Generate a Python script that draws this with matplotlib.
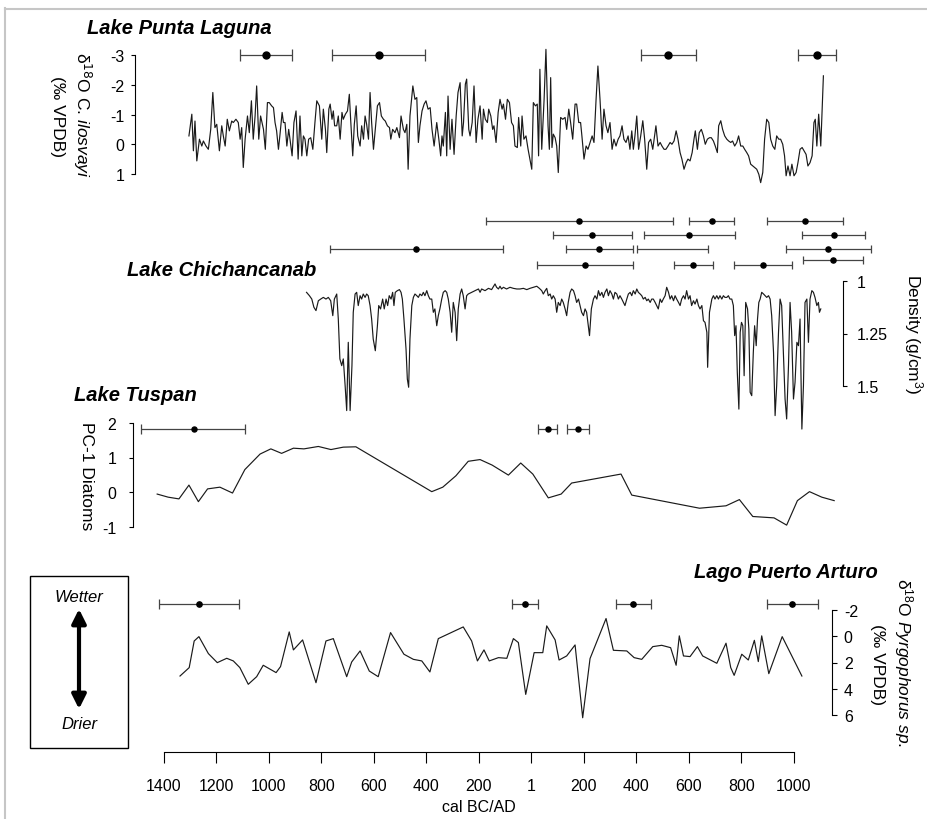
import matplotlib
matplotlib.use('Agg')
import matplotlib.pyplot as plt
from matplotlib.lines import Line2D
from matplotlib.patches import Rectangle, FancyArrowPatch

plt.rcParams['font.family'] = ['Liberation Sans', 'DejaVu Sans']
plt.rcParams['mathtext.fontset'] = 'custom'
plt.rcParams['mathtext.rm'] = 'Liberation Sans'
plt.rcParams['mathtext.it'] = 'Liberation Sans:italic'
plt.rcParams['mathtext.bf'] = 'Liberation Sans:bold'
plt.rcParams['axes.unicode_minus'] = False

# ---------------- data (years: negative = BC) ----------------
# Lake Punta Laguna, d18O C. ilosvayi
pl_year = [-1305, -1294, -1288, -1282, -1275, -1265, -1256, -1250, -1240, -1231,
           -1222, -1214, -1206, -1199, -1189, -1180, -1174, -1167, -1159, -1151,
           -1142, -1136, -1126, -1117, -1110, -1104, -1098, -1091, -1082, -1075,
           -1067, -1060, -1053, -1047, -1039, -1032, -1021, -1014, -1006, -999,
           -990, -983, -977, -971, -964, -958, -950, -945, -939, -932,
           -925, -920, -912, -905, -897, -889, -882, -875, -869, -863,
           -856, -849, -841, -833, -825, -818, -808, -799, -793, -785,
           -780, -772, -767, -760, -755, -750, -742, -736, -729, -722,
           -717, -709, -701, -694, -689, -681, -675, -668, -662, -653,
           -647, -640, -634, -628, -621, -615, -609, -602, -595, -587,
           -579, -572, -564, -557, -549, -541, -536, -529, -520, -513,
           -503, -497, -488, -482, -475, -470, -463, -452, -444, -437,
           -431, -425, -417, -409, -402, -394, -386, -379, -371, -361,
           -353, -346, -341, -336, -328, -323, -318, -310, -303, -295,
           -287, -280, -272, -264, -259, -252, -247, -239, -234, -226,
           -219, -211, -204, -196, -188, -183, -176, -168, -163, -155,
           -148, -143, -135, -127, -120, -112, -107, -99, -92, -84,
           -76, -69, -63, -54, -49, -41, -36, -29, -21, -13,
           -6, 1, 7, 15, 22, 27, 32, 39, 48, 55,
           63, 68, 73, 78, 83, 90, 96, 102, 111, 119,
           128, 134, 142, 149, 157, 166, 172, 180, 187, 192,
           200, 208, 215, 223, 231, 238, 246, 253, 261, 269,
           276, 284, 291, 299, 307, 314, 322, 330, 337, 345,
           352, 360, 368, 375, 382, 388, 394, 401, 408, 416,
           424, 431, 439, 446, 454, 462, 469, 474, 482, 490,
           497, 505, 512, 520, 528, 535, 543, 551, 558, 566,
           573, 581, 589, 596, 604, 612, 619, 624, 632, 639,
           647, 655, 662, 670, 678, 685, 693, 700, 708, 713,
           721, 728, 736, 744, 751, 759, 766, 774, 782, 789,
           797, 805, 812, 820, 827, 835, 843, 850, 858, 866,
           873, 881, 888, 896, 904, 911, 919, 927, 934, 942,
           949, 957, 964, 970, 977, 985, 992, 1000, 1008, 1015,
           1023, 1031, 1038, 1046, 1053, 1061, 1069, 1076, 1081, 1087,
           1094, 1102, 1112]
pl_d18o = [-0.28, -1.01, 0.22, -0.78, 0.56, -0.17, 0.06, -0.11, 0.06, 0.17,
           -0.50, -1.74, -0.56, -0.67, 0.22, -0.62, -0.28, 0.06, -0.84, -0.45,
           -0.78, -0.73, -0.84, -0.73, -0.17, -0.56, 0.78, -0.17, -0.95, -0.39,
           -1.46, -0.17, -0.95, -1.96, -0.17, -0.95, -0.50, 0.17, -1.40, -1.40,
           -1.29, -1.23, -0.73, -0.45, 0.17, -0.34, -1.07, -0.73, -0.73, 0.06,
           -0.50, -0.17, 0.39, -0.73, -1.12, 0.50, -0.95, 0.39, -0.28, -0.17,
           0.39, -0.17, -0.22, 0.17, -0.73, -1.46, -1.29, -0.17, -1.18, -0.50,
           0.28, -1.18, -1.35, -0.84, -1.12, -0.62, -0.62, -0.95, -0.17, -1.07,
           -0.84, -1.01, -1.12, -1.68, -0.84, 0.39, -0.67, -1.29, -0.28, 0.06,
           -0.62, -0.17, -0.95, -0.67, -0.17, -1.74, -0.73, 0.17, -0.50, -1.29,
           -1.40, -0.95, -0.84, -0.78, -0.62, -0.56, -0.17, -0.50, -0.39, -0.56,
           -0.22, -0.95, -0.50, -0.39, -0.67, 0.84, -0.95, -1.96, -1.51, -1.57,
           -0.06, -0.62, -1.12, -1.35, -1.46, -1.18, -1.23, -0.50, 0.06, -0.73,
           -0.17, 0.39, -0.28, 0.06, -1.07, 0.39, -1.62, 0.17, -0.84, 0.34,
           -0.95, -1.74, -2.07, -0.28, -0.73, -2.02, -2.19, -0.50, -0.28, -0.73,
           -1.96, -0.06, -0.84, -1.29, -0.17, -1.18, -0.84, -0.73, -1.18, -0.95,
           -0.50, -0.62, -0.06, -1.07, -1.51, -1.18, -1.35, -0.84, -1.51, -1.40,
           -0.73, -0.62, 0.06, 0.11, -0.90, 0.06, -0.95, -0.17, -0.28, 0.17,
           0.50, 0.84, -1.40, -1.29, -1.35, 0.39, -2.52, 0.17, -1.51, -3.19,
           -0.62, 0.17, -2.24, 0.11, -0.34, -0.22, 0.06, 0.95, -0.90, -0.84,
           -0.90, -0.50, -1.18, -0.73, -0.17, -1.35, -1.35, -0.73, -0.73, -0.28,
           0.50, 0.06, 0.17, -0.06, -0.28, -0.06, -1.51, -2.63, -1.51, -0.17,
           -1.18, -0.62, -0.39, -0.73, 0.17, -0.17, 0.06, -0.17, -0.28, -0.62,
           -0.17, -0.06, -0.28, 0.17, -0.45, 0.17, -0.28, -0.95, 0.17, -0.28,
           -0.79, -0.17, 0.84, -0.06, -0.17, 0.17, -0.28, -0.62, 0.06, -0.06,
           0.06, 0.17, 0.17, 0.06, -0.06, 0.00, -0.11, -0.45, -0.17, 0.28,
           0.50, 0.84, 0.62, 0.50, 0.56, 0.28, -0.17, -0.45, 0.17, -0.39,
           -0.50, -0.28, 0.00, -0.17, -0.22, -0.22, -0.11, 0.06, 0.28, -0.62,
           -0.79, -0.50, -0.28, -0.17, -0.11, -0.06, -0.11, 0.06, -0.06, -0.28,
           0.06, 0.06, 0.17, 0.28, 0.39, 0.67, 0.73, 0.78, 0.84, 1.01,
           1.29, 0.95, -0.17, -0.84, -0.73, -0.17, 0.06, 0.17, -0.28, -0.17,
           -0.17, 0.00, 0.39, 1.06, 0.73, 1.06, 0.67, 1.06, 0.95, 0.62,
           0.17, 0.11, 0.22, 0.34, 0.73, 0.62, 0.39, -0.73, -0.84, 0.06,
           -1.01, 0.06, -2.30]
pl_age = [-1011, -581, 520, 1088]
pl_age_lo = [-1110, -760, 417, 1015]
pl_age_hi = [-912, -406, 627, 1160]

# Lake Chichancanab, sediment density
ch_year = [-857, -846, -837, -829, -821, -812, -803, -793, -783, -774,
           -765, -757, -751, -742, -736, -730, -723, -717, -710, -704,
           -698, -691, -684, -679, -672, -666, -660, -653, -647, -641,
           -634, -628, -622, -615, -609, -603, -595, -587, -582, -575,
           -567, -561, -554, -548, -542, -535, -529, -524, -519, -511,
           -503, -497, -492, -486, -478, -473, -468, -463, -456, -450,
           -444, -437, -431, -425, -418, -412, -406, -399, -393, -387,
           -380, -374, -368, -361, -355, -349, -342, -336, -329, -323,
           -317, -310, -304, -298, -291, -285, -279, -272, -266, -260,
           -253, -247, -241, -228, -215, -202, -196, -190, -177, -164,
           -152, -139, -133, -126, -120, -114, -107, -95, -82, -69,
           -56, -44, -31, -18, -6, 7, 20, 30, 39, 45,
           52, 58, 64, 71, 77, 83, 90, 96, 102, 109,
           115, 121, 128, 134, 140, 147, 153, 160, 166, 172,
           179, 185, 191, 198, 204, 210,
           221, 228, 236, 242, 249, 255, 261, 268, 274, 280,
           287, 293, 299, 306, 312, 318, 325, 331, 337, 344,
           350, 356, 363, 369, 376, 382, 388, 395, 401, 407,
           414, 420, 426, 433, 439, 445, 452, 458, 464, 471,
           477, 483, 490, 496, 502, 509, 515, 522, 528, 534,
           541, 547, 553, 560, 566, 572, 579, 585, 591, 598,
           604, 610, 617, 623, 630, 636, 642, 649, 655, 661,
           668, 671, 678, 687, 693, 699, 706, 712, 718, 725,
           731, 737, 744, 750, 756, 763, 769, 774, 779, 784,
           790, 795, 800, 805, 810, 816, 823, 828, 833, 839,
           845, 850, 856, 861, 866, 871, 877, 884, 890, 896,
           903, 909, 915, 922, 928, 934, 941, 947, 953, 960,
           966, 972, 979, 985, 991, 998, 1004, 1011, 1017, 1023,
           1030, 1036, 1042, 1049, 1055, 1061, 1068, 1074, 1080, 1087,
           1093, 1097, 1102]
ch_density = [1.054, 1.070, 1.086, 1.125, 1.141, 1.094, 1.086, 1.078, 1.086, 1.078,
              1.094, 1.165, 1.086, 1.062, 1.181, 1.371, 1.403, 1.371, 1.498, 1.617,
              1.292, 1.617, 1.403, 1.149, 1.062, 1.054, 1.117, 1.070, 1.086, 1.062,
              1.078, 1.062, 1.070, 1.117, 1.181, 1.276, 1.332, 1.213, 1.117, 1.133,
              1.086, 1.133, 1.086, 1.117, 1.070, 1.086, 1.054, 1.117, 1.054, 1.046,
              1.041, 1.054, 1.086, 1.181, 1.324, 1.467, 1.506, 1.276, 1.117, 1.078,
              1.062, 1.070, 1.078, 1.062, 1.070, 1.054, 1.070, 1.046, 1.070, 1.086,
              1.086, 1.149, 1.133, 1.213, 1.165, 1.133, 1.086, 1.054, 1.046, 1.054,
              1.086, 1.149, 1.244, 1.102, 1.149, 1.284, 1.133, 1.062, 1.038, 1.070,
              1.133, 1.070, 1.062, 1.054, 1.046, 1.038, 1.054, 1.038, 1.046, 1.035,
              1.041, 1.014, 1.030, 1.038, 1.025, 1.038, 1.030, 1.038, 1.030, 1.035,
              1.038, 1.038, 1.035, 1.041, 1.035, 1.030, 1.025, 1.035, 1.046, 1.062,
              1.046, 1.035, 1.070, 1.062, 1.086, 1.070, 1.086, 1.149, 1.102, 1.117,
              1.086, 1.102, 1.133, 1.165, 1.102, 1.054, 1.038, 1.046, 1.070, 1.102,
              1.086, 1.117, 1.149, 1.165, 1.133, 1.149,
              1.260, 1.133, 1.086, 1.070, 1.086, 1.046, 1.070, 1.054, 1.078, 1.054,
              1.038, 1.070, 1.046, 1.062, 1.086, 1.054, 1.062, 1.086, 1.070, 1.086,
              1.102, 1.117, 1.086, 1.062, 1.054, 1.070, 1.046, 1.062, 1.038, 1.054,
              1.062, 1.070, 1.086, 1.078, 1.094, 1.086, 1.102, 1.086, 1.086, 1.102,
              1.117, 1.133, 1.086, 1.102, 1.086, 1.070, 1.030, 1.054, 1.086, 1.070,
              1.094, 1.070, 1.086, 1.102, 1.117, 1.086, 1.070, 1.086, 1.046, 1.086,
              1.070, 1.117, 1.094, 1.110, 1.086, 1.117, 1.133, 1.117, 1.189, 1.197,
              1.244, 1.411, 1.149, 1.086, 1.070, 1.086, 1.070, 1.086, 1.070, 1.086,
              1.070, 1.078, 1.078, 1.070, 1.086, 1.086, 1.117, 1.260, 1.213, 1.435,
              1.610, 1.244, 1.197, 1.213, 1.451, 1.102, 1.133, 1.229, 1.530, 1.546,
              1.340, 1.213, 1.308, 1.181, 1.102, 1.086, 1.054, 1.062, 1.070, 1.078,
              1.070, 1.086, 1.165, 1.340, 1.641, 1.498, 1.244, 1.086, 1.117, 1.356,
              1.562, 1.657, 1.403, 1.102, 1.244, 1.562, 1.482, 1.292, 1.308, 1.181,
              1.705, 1.498, 1.102, 1.086, 1.292, 1.086, 1.046, 1.054, 1.078, 1.117,
              1.102, 1.149, 1.133]
# radiocarbon ages: lower bound, upper bound, row height (density units), dated point (None = no dot)
ch_age_lo = [-173, 600, 897, 82, 429, 1030, -768, 131, 402, 970, 21, 543, 771, 1034]
ch_age_hi = [539, 771, 1187, 383, 775, 1270, -109, 387, 672, 1293, 387, 691, 992, 1263]
ch_age_row = [0.713, 0.713, 0.713, 0.781, 0.781, 0.781, 0.848, 0.848, 0.848, 0.848,
              0.922, 0.922, 0.922, 0.90]
ch_age = [181, 688, 1042, 230, 600, 1152, -440, 257, None, 1130, 204, 615, 882, 1149]

# Lake Tuspan, PC-1 diatoms
tu_year = [-1426, -1384, -1343, -1305, -1269, -1234, -1187, -1139, -1092, -1034,
           -993, -952, -907, -867, -812, -764, -717, -669, -380, -338,
           -288, -241, -196, -150, -88, -41, 5, 64, 113, 153,
           341, 382, 640, 741, 792, 843, 924, 972, 1013, 1059,
           1106, 1153]
tu_pc1 = [-0.06, -0.15, -0.20, 0.20, -0.28, 0.09, 0.14, -0.03, 0.65, 1.10,
          1.25, 1.12, 1.27, 1.25, 1.32, 1.23, 1.30, 1.31, 0.01, 0.14,
          0.47, 0.89, 0.94, 0.78, 0.49, 0.84, 0.52, -0.17, -0.06, 0.26,
          0.52, -0.09, -0.47, -0.40, -0.22, -0.71, -0.75, -0.96, -0.25, 0.01,
          -0.15, -0.25]
tu_age = [-1286, 63, 177]
tu_age_lo = [-1488, 25, 135]
tu_age_hi = [-1091, 97, 219]

# Lago Puerto Arturo, d18O Pyrgophorus sp.
pa_year = [-1339, -1304, -1285, -1267, -1231, -1197, -1161, -1136, -1111, -1079,
           -1047, -1022, -973, -956, -923, -907, -872, -821, -783, -755,
           -704, -685, -653, -618, -584, -537, -486, -450, -418, -387,
           -355, -260, -228, -206, -181, -161, -126, -94, -69, -50,
           -22, 10, 43, 58, 90, 105, 134, 166, 195, 223,
           284, 312, 363, 391, 420, 462, 496, 530, 551, 563,
           579, 604, 632, 652, 706, 741, 759, 772, 801, 826,
           849, 864, 877, 904, 955, 1030]
pa_d18o = [3.03, 2.39, 0.36, 0.03, 1.32, 2.01, 1.68, 1.88, 2.39, 3.66,
           3.08, 2.21, 2.77, 2.31, -0.33, 1.04, 0.28, 3.54, 0.36, 0.18,
           3.08, 1.96, 1.12, 2.65, 3.08, -0.28, 1.37, 1.76, 1.88, 2.72,
           0.18, -0.71, 0.36, 1.88, 1.04, 1.88, 1.63, 1.68, 0.18, 0.48,
           4.43, 1.25, 1.25, -0.79, 0.28, 1.81, 1.50, 0.66, 6.21, 1.70,
           -1.35, 1.07, 1.12, 1.63, 1.76, 0.79, 0.69, 0.87, 2.21, -0.03,
           1.50, 1.55, 0.79, 1.50, 2.06, 0.53, 2.39, 2.98, 1.37, 1.81,
           0.31, 1.93, -0.03, 2.85, 0.03, 3.03]
pa_age = [-1267, -25, 387, 992]
pa_age_lo = [-1419, -74, 322, 897]
pa_age_hi = [-1114, 25, 455, 1091]

x_ticks = [-1400, -1200, -1000, -800, -600, -400, -200, 0, 200, 400, 600, 800, 1000]
x_labels = ['1400', '1200', '1000', '800', '600', '400', '200', '1',
            '200', '400', '600', '800', '1000']

# ---------------- layout helpers (pixel -> figure fraction) ----------------
W, H = 928, 820
LINE = '#1a1a1a'
BAR = '#444444'
TICK_FS = 11.5
LAB_FS = 12.5
TITLE_FS = 14.5


def fx(px):
    return px / W


def fy(py):
    return 1 - py / H


fig = plt.figure(figsize=(W / 100, H / 100), dpi=100)


def panel(top, bottom, ylim):
    ax = fig.add_axes([fx(164), fy(bottom), (794 - 164) / W, (bottom - top) / H])
    ax.patch.set_visible(False)
    ax.set_xlim(-1400, 1000)
    ax.set_ylim(*ylim)
    for s in ax.spines.values():
        s.set_visible(False)
        s.set_linewidth(0.8)
    ax.set_xticks([])
    return ax


def age_bars(ax, lo, hi, row, dots, cap, ms):
    mid = [(a + b) / 2 for a, b in zip(lo, hi)]
    half = [(b - a) / 2 for a, b in zip(lo, hi)]
    eb = ax.errorbar(mid, row, xerr=half, fmt='none', ecolor=BAR, elinewidth=0.9,
                     capsize=cap, capthick=0.9)
    for art in eb.get_children():
        art.set_clip_on(False)
    pts = [(d, r) for d, r in zip(dots, row) if d is not None]
    ax.plot([p[0] for p in pts], [p[1] for p in pts], 'o', color='black', ms=ms,
            clip_on=False, zorder=5)


# Panel 1: Punta Laguna
ax1 = panel(56, 175, (1, -3))
ax1.plot(pl_year, pl_d18o, color=LINE, lw=0.85, clip_on=False)
age_bars(ax1, pl_age_lo, pl_age_hi, [-3] * len(pl_age), pl_age, 4, 5)
ax1.spines['left'].set_visible(True)
ax1.spines['left'].set_position(('data', -1510))
ax1.set_yticks([-3, -2, -1, 0, 1])
ax1.tick_params(axis='y', direction='out', length=3, width=0.8, pad=4.5, labelsize=TICK_FS)

# Panel 2: Chichancanab
ax2 = panel(282, 387, (1.5, 1.0))
ax2.plot(ch_year, ch_density, color=LINE, lw=0.85, clip_on=False)
age_bars(ax2, ch_age_lo, ch_age_hi, ch_age_row, ch_age, 3, 3.7)
ax2.spines['right'].set_visible(True)
ax2.spines['right'].set_position(('data', 1187))
ax2.yaxis.tick_right()
ax2.set_yticks([1.0, 1.25, 1.5])
ax2.set_yticklabels(['1', '1.25', '1.5'])
ax2.tick_params(axis='y', direction='out', length=3, width=0.8, pad=7, labelsize=TICK_FS)

# Panel 3: Tuspan
ax3 = panel(424, 527.5, (-1, 2))
ax3.plot(tu_year, tu_pc1, color=LINE, lw=0.85, clip_on=False)
age_bars(ax3, tu_age_lo, tu_age_hi, [1.84] * len(tu_age), tu_age, 3.6, 3.6)
ax3.spines['left'].set_visible(True)
ax3.spines['left'].set_position(('data', -1518))
ax3.set_yticks([-1, 0, 1, 2])
ax3.tick_params(axis='y', direction='out', length=3, width=0.8, pad=9, labelsize=TICK_FS)

# Panel 4: Puerto Arturo (+ shared time axis)
ax4 = panel(611, 716, (6, -2))
ax4.plot(pa_year, pa_d18o, color=LINE, lw=0.85, clip_on=False)
age_bars(ax4, pa_age_lo, pa_age_hi, [-2.44] * len(pa_age), pa_age, 3.6, 3.8)
ax4.spines['right'].set_visible(True)
ax4.spines['right'].set_position(('data', 1145))
ax4.yaxis.tick_right()
ax4.set_yticks([-2, 0, 2, 4, 6])
ax4.tick_params(axis='y', direction='out', length=3.5, width=0.8, pad=5, labelsize=TICK_FS)
ax4.spines['bottom'].set_visible(True)
ax4.spines['bottom'].set_position(('outward', 26.6))
ax4.set_xticks(x_ticks)
ax4.set_xticklabels(x_labels)
ax4.tick_params(axis='x', direction='out', length=7.7, width=0.8, pad=11, labelsize=TICK_FS)

# ---------------- texts ----------------
title_kw = dict(fontsize=TITLE_FS, fontweight='bold', fontstyle='italic', va='center')
fig.text(fx(87), fy(29), 'Lake Punta Laguna', ha='left', **title_kw)
fig.text(fx(127), fy(271), 'Lake Chichancanab', ha='left', **title_kw)
fig.text(fx(74), fy(396), 'Lake Tuspan', ha='left', **title_kw)
fig.text(fx(878), fy(573), 'Lago Puerto Arturo', ha='right', **title_kw)

lab_kw = dict(fontsize=LAB_FS, rotation=270, ha='center', va='center')
fig.text(fx(82), fy(115), 'δ$^{\\mathsf{18}}$O C. $\\mathit{ilosvayi}$', **lab_kw)
fig.text(fx(58), fy(117), '(‰ VPDB)', **lab_kw)
fig.text(fx(87), fy(476), 'PC-1 Diatoms', **lab_kw)
fig.text(fx(913), fy(334), 'Density (g/cm$^{3}$)', **lab_kw)
fig.text(fx(903), fy(663), 'δ$^{18}$O $\\mathit{Pyrgophorus\\ sp.}$', **lab_kw)
fig.text(fx(878), fy(664), '(‰ VPDB)', **lab_kw)
fig.text(fx(479), fy(808), 'cal BC/AD', fontsize=TICK_FS, ha='center', va='center')

# Wetter / Drier key
fig.add_artist(Rectangle((fx(30), fy(749)), (128 - 30) / W, (749 - 577) / H,
                         transform=fig.transFigure, fill=False, lw=1.0, ec='black'))
fig.text(fx(79), fy(598), 'Wetter', fontsize=12, fontstyle='italic', ha='center', va='center')
fig.text(fx(79), fy(725), 'Drier', fontsize=12, fontstyle='italic', ha='center', va='center')
fig.add_artist(FancyArrowPatch((fx(79), fy(710)), (fx(79), fy(610)),
                               transform=fig.transFigure,
                               arrowstyle='<|-|>,head_length=0.7,head_width=0.35',
                               mutation_scale=12, lw=3, color='black',
                               shrinkA=0, shrinkB=0))

# light grey frame (top and left edges)
fig.add_artist(Line2D([fx(5), 1], [fy(9.5), fy(9.5)], transform=fig.transFigure,
                      color='#c6c6c6', lw=1.5))
fig.add_artist(Line2D([fx(5.5), fx(5.5)], [fy(9), 0], transform=fig.transFigure,
                      color='#c6c6c6', lw=1.5))

fig.savefig('out.png', dpi=100)
